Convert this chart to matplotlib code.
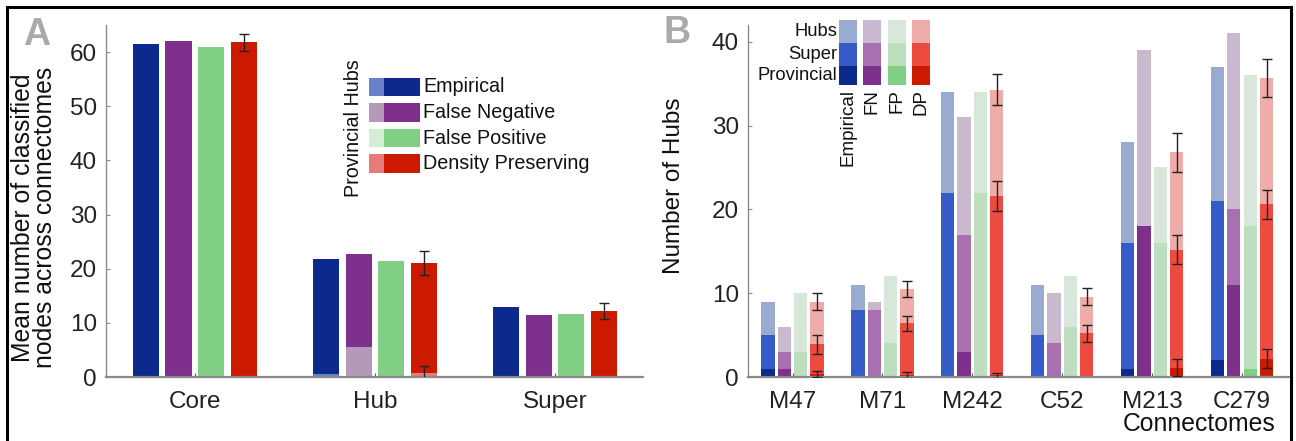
import numpy as np
import matplotlib
matplotlib.use("Agg")
import matplotlib.pyplot as plt
from matplotlib.patches import Rectangle

plt.rcParams['font.family'] = ['Liberation Sans', 'DejaVu Sans']

# ---------------- data ----------------
# panel A: mean number of classified nodes
groups_A = ['Core', 'Hub', 'Super']
series_A = ['Empirical', 'False Negative', 'False Positive', 'Density Preserving']
emp_A = [61.4, 21.7, 12.9]
fn_A = [62.0, 22.7, 11.4]
fp_A = [61.0, 21.5, 11.6]
dp_A = [61.8, 21.0, 12.2]
dp_A_err = [1.6, 2.2, 1.4]
# provincial hubs inside the Hub group
prov_A = [0.6, 5.5, 0.0, 0.7]
prov_A_err = [0.0, 0.0, 0.0, 1.4]

# panel B: hubs per connectome (levels: all hubs, super, provincial)
connectomes = ['M47', 'M71', 'M242', 'C52', 'M213', 'C279']
hubs_emp = [9, 11, 34, 11, 28, 37]
super_emp = [5, 8, 22, 5, 16, 21]
prov_emp = [1, 0, 0, 0, 1, 2]
hubs_fn = [6, 9, 31, 10, 39, 41]
super_fn = [3, 8, 17, 4, 18, 20]
prov_fn = [1, 0, 3, 0, 18, 11]
hubs_fp = [10, 12, 34, 12, 25, 36]
super_fp = [3, 4, 22, 6, 16, 18]
prov_fp = [0, 0, 0, 0, 0, 1]
hubs_dp = [9.0, 10.5, 34.3, 9.6, 26.8, 35.7]
hubs_dp_err = [1.0, 0.9, 1.9, 1.05, 2.35, 2.3]
super_dp = [3.9, 6.4, 21.6, 5.2, 15.2, 20.6]
super_dp_err = [1.15, 0.9, 1.8, 1.0, 1.75, 1.75]
prov_dp = [0.4, 0.2, 0.2, 0.0, 1.1, 2.2]
prov_dp_err = [0.35, 0.35, 0.3, 0.0, 1.0, 1.1]

# colours (dark = provincial / panel A totals, mid = super, light = hubs)
dark = ['#0B2A8B', '#7F2F8C', '#80CF84', '#CC1A00']
mid = ['#345BC8', '#A870B0', '#BEDFBF', '#EE4B40']
light = ['#9AABD2', '#C9B8CE', '#D7E8DA', '#EEADA9']
provA = ['#6B80CD', '#B49AB8', '#D5EDD5', '#E87B78']

W, H = 1296, 441
FS = 17.5
gray = '#8a8a8a'

fig = plt.figure(figsize=(W / 100, H / 100), dpi=100)


def style(ax, ymax, yticks):
    ax.set_ylim(0, ymax)
    ax.set_yticks(yticks)
    for s in ['top', 'right']:
        ax.spines[s].set_visible(False)
    ax.spines['left'].set_color(gray)
    ax.spines['left'].set_linewidth(1.0)
    ax.spines['bottom'].set_color(gray)
    ax.spines['bottom'].set_linewidth(1.6)
    ax.tick_params(axis='y', direction='in', length=3, color=gray, labelsize=FS, pad=6.5, labelcolor='#222222')
    ax.tick_params(axis='x', direction='in', length=3, color='#555555', labelsize=FS, pad=10, labelcolor='#222222')


offs = [-0.273, -0.091, 0.091, 0.273]
ebkw = dict(fmt='none', ecolor='#222222', elinewidth=1.0, capsize=3.6, capthick=1.0, zorder=5)

# ---------------- panel A ----------------
axA = fig.add_axes([106 / W, 1 - 377 / H, 537 / W, 352 / H])
xA = np.arange(len(groups_A))
bwA = 0.145
tot_A = [emp_A, fn_A, fp_A, dp_A]
for i in range(4):
    axA.bar(xA + offs[i], tot_A[i], bwA, color=dark[i], linewidth=0)
    # provincial hubs (Hub group)
    axA.bar(1 + offs[i], prov_A[i], bwA, color=provA[i], linewidth=0)
axA.errorbar(xA + offs[3], dp_A, yerr=dp_A_err, **ebkw)
axA.errorbar([1 + offs[3]], [prov_A[3]], yerr=[prov_A_err[3]], **ebkw)
style(axA, 65, [0, 10, 20, 30, 40, 50, 60])
axA.set_xlim(-0.494, 2.489)
axA.set_xticks(xA)
axA.set_xticklabels(groups_A)

# legend A
def px2ax(px, py, x0, w, y0=377, h=352):
    return (px - x0) / w, (y0 - py) / h

rows_A = [(78, 96), (103, 122), (129, 147), (154, 173)]
for i, (t, b) in enumerate(rows_A):
    x1, y1 = px2ax(369, b, 106, 537)
    x2, _ = px2ax(384, b, 106, 537)
    x3, _ = px2ax(420, b, 106, 537)
    hh = (b - t) / 352
    axA.add_patch(Rectangle((x1, y1), x2 - x1, hh, transform=axA.transAxes, color=provA[i], lw=0))
    axA.add_patch(Rectangle((x2, y1), x3 - x2, hh, transform=axA.transAxes, color=dark[i], lw=0))
    axA.text(px2ax(423, 0, 106, 537)[0], y1 + hh / 2, series_A[i], transform=axA.transAxes,
             fontsize=14.2, ha='left', va='center', color='#111111')
axA.text(*px2ax(353.5, 128.5, 106, 537), 'Provincial Hubs', transform=axA.transAxes,
         rotation=90, fontsize=14.2, ha='center', va='center', color='#111111')

# ---------------- panel B ----------------
axB = fig.add_axes([748 / W, 1 - 377 / H, 543 / W, 352 / H])
xB = np.arange(len(connectomes))
bwB = 0.148
levels = [(hubs_emp, super_emp, prov_emp), (hubs_fn, super_fn, prov_fn),
          (hubs_fp, super_fp, prov_fp), (hubs_dp, super_dp, prov_dp)]
for i, (hb, sp, pv) in enumerate(levels):
    axB.bar(xB + offs[i], hb, bwB, color=light[i], linewidth=0)
    axB.bar(xB + offs[i], sp, bwB, color=mid[i], linewidth=0)
    axB.bar(xB + offs[i], pv, bwB, color=dark[i], linewidth=0)
axB.errorbar(xB + offs[3], hubs_dp, yerr=hubs_dp_err, **ebkw)
axB.errorbar(xB + offs[3], super_dp, yerr=super_dp_err, **ebkw)
sel = [k for k in range(len(connectomes)) if prov_dp_err[k] > 0]
axB.errorbar(xB[sel] + offs[3], np.array(prov_dp)[sel], yerr=np.array(prov_dp_err)[sel], **ebkw)
style(axB, 42, [0, 10, 20, 30, 40])
axB.set_xlim(-0.495, 5.545)
axB.set_xticks(xB)
axB.set_xticklabels(connectomes)

# legend B (3 x 4 grid)
cols_B = [(839, 857), (863, 881), (888, 906), (912, 930)]
rows_B = [(20, 43), (43, 66), (66, 85)]
row_names = ['Hubs', 'Super', 'Provincial']
col_names = ['Empirical', 'FN', 'FP', 'DP']
shades = [light, mid, dark]
for r, (t, b) in enumerate(rows_B):
    for c, (l, rr) in enumerate(cols_B):
        x1, y1 = px2ax(l, b, 748, 543)
        axB.add_patch(Rectangle((x1, y1), (rr - l) / 543, (b - t) / 352, transform=axB.transAxes,
                                color=shades[r][c], lw=0, clip_on=False))
    axB.text(*px2ax(837, (t + b) / 2, 748, 543), row_names[r], transform=axB.transAxes,
             fontsize=13.2, ha='right', va='center', color='#111111')
for c, (l, rr) in enumerate(cols_B):
    axB.text(*px2ax((l + rr) / 2, 89, 748, 543), col_names[c], transform=axB.transAxes,
             rotation=90, fontsize=13.5, ha='center', va='top', color='#111111')

# axis titles
fig.text(34 / W, 1 - 217.5 / H, 'Mean number of classified\nnodes across connectomes',
         rotation=90, ha='center', va='center', fontsize=17.8, linespacing=0.88, color='#111111')
fig.text(674 / W, 1 - 186 / H, 'Number of Hubs', rotation=90, ha='center', va='center',
         fontsize=FS, color='#111111')
fig.text(1275 / W, 1 - 424 / H, 'Connectomes', ha='right', va='center', fontsize=17.8, color='#111111')

# panel letters
fig.text(23 / W, 1 - 45 / H, 'A', fontsize=27, fontweight='bold', color='#AAAAAA', ha='left', va='baseline')
fig.text(663 / W, 1 - 43 / H, 'B', fontsize=27, fontweight='bold', color='#AAAAAA', ha='left', va='baseline')

# frame around the figure
fig.patches.append(Rectangle((7 / W, -0.1), (1291 - 7) / W, 1.1 - 7 / H, transform=fig.transFigure,
                             fill=False, lw=2.2, ec='black'))

fig.savefig('out.png', dpi=100)
